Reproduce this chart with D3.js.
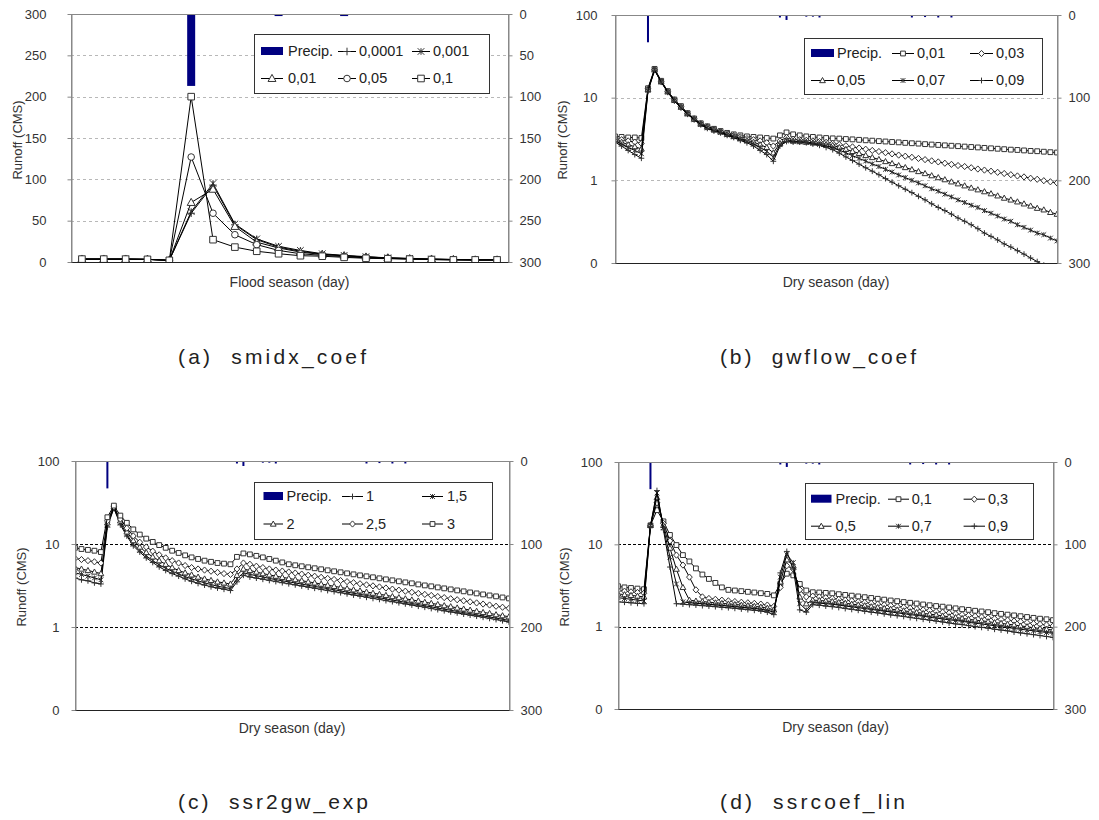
<!DOCTYPE html>
<html>
<head>
<meta charset="utf-8">
<script src="https://cdn.jsdelivr.net/npm/d3@7"></script>
<style>
  body { margin: 0; background: #fff; }
  text { font-family: "Liberation Sans", Arial, sans-serif; }
</style>
</head>
<body>
<div id="app"></div>
<script>
// ---------- data ----------
const floodDays = d3.range(1, 21);
const dryDays = d3.range(1, 69);

const linearTicks = [0, 50, 100, 150, 200, 250, 300];
const logTicks = [0.1, 1, 10, 100];
const precipTicks = [0, 100, 200, 300];

// (a) smidx_coef, flood season
const precipFlood = [0,0,0,0,0,87,0,0,0,2.5,0,0,2.5,0,0,0,0,0,0,0];
const smidx0001 = [3.5,3.5,3.5,3.2,2,59,93,45,27,18,13,9.5,7.5,6,5,4,3.5,3,2.5,2.5];
const smidx001  = [3.5,3.5,3.5,3.2,2,61,95,46,28,19,14,10,8,6.5,5,4.5,3.5,3,2.5,2.5];
const smidx01   = [3.5,3.5,3.5,3.2,2,72,88,43,24,17,12,9,7.6,6,5,4,3.5,3,2.5,2.5];
const smidx05   = [3.5,3.5,3.5,3.2,2,127,59,33,21,14,10,8,6.5,5,4.5,3.5,3,2.5,2.5,2.5];
const smidx1    = [3.5,3.5,3.5,3.2,2,200,27,18,13,10,7.6,7,5.6,4.5,4,3.5,3,2.5,2.5,2.5];

// dry season precipitation (shared by b, c, d)
const precipDry = [
  0,0,0,0,0,33,0,0,0,0,
  0,0,0,0,0,0,0,0,0,0,
  0,0,0,0,0,3,6,0,0,2,
  2,3,0,0,0,0,0,0,0,0,
  0,0,0,0,0,3,0,2.5,0,3,
  0,3,0,0,0,0,0,0,0,0,
  0,0,0,0,0,0,0,0];

// (b) gwflow_coef
const gw001 = [
  3.4,3.35,3.3,3.3,3.25,13,22.3,16,12,9.5,
  7.9,6.5,5.6,4.9,4.5,4.2,3.95,3.75,3.6,3.5,
  3.4,3.35,3.3,3.25,3.2,3.5,3.8,3.6,3.5,3.4,
  3.35,3.3,3.25,3.22,3.2,3.16,3.13,3.09,3.05,3.02,
  2.98,2.95,2.91,2.88,2.84,2.81,2.78,2.74,2.71,2.68,
  2.65,2.62,2.59,2.56,2.53,2.5,2.47,2.44,2.41,2.38,
  2.35,2.33,2.3,2.27,2.25,2.22,2.19,2.17];
const gw003 = [
  3.2,3.1,3.0,2.9,2.8,12.8,22,15.8,11.9,9.4,
  7.8,6.45,5.55,4.85,4.45,4.15,3.9,3.7,3.5,3.35,
  3.2,3.1,3.0,2.85,2.6,3.0,3.3,3.15,3.1,3.05,
  3.0,2.95,2.88,2.8,2.71,2.62,2.54,2.46,2.38,2.3,
  2.23,2.16,2.09,2.02,1.96,1.9,1.84,1.78,1.72,1.67,
  1.61,1.56,1.51,1.47,1.42,1.37,1.33,1.29,1.25,1.21,
  1.17,1.13,1.1,1.06,1.03,0.99,0.96,0.93];
const gw005 = [
  3.1,2.9,2.7,2.55,2.4,12.5,21.8,15.6,11.8,9.3,
  7.7,6.4,5.5,4.8,4.4,4.1,3.85,3.6,3.4,3.2,
  3.05,2.9,2.7,2.5,2.15,2.8,3.1,3.0,2.95,2.9,
  2.85,2.8,2.72,2.65,2.5,2.37,2.24,2.12,2.0,1.89,
  1.79,1.69,1.6,1.51,1.43,1.35,1.28,1.21,1.14,1.08,
  1.02,0.96,0.91,0.86,0.81,0.77,0.73,0.69,0.65,0.61,
  0.58,0.55,0.52,0.49,0.46,0.44,0.41,0.39];
const gw007 = [
  3.0,2.75,2.5,2.3,2.1,12.2,21.6,15.5,11.7,9.2,
  7.6,6.35,5.45,4.75,4.3,4.0,3.8,3.55,3.35,3.15,
  2.95,2.75,2.5,2.25,1.9,2.7,3.0,2.95,2.92,2.88,
  2.8,2.72,2.62,2.5,2.32,2.15,1.99,1.84,1.71,1.58,
  1.47,1.36,1.26,1.16,1.08,1.0,0.93,0.86,0.79,0.74,
  0.68,0.63,0.58,0.54,0.5,0.47,0.43,0.4,0.37,0.34,
  0.32,0.29,0.27,0.25,0.23,0.22,0.2,0.185];
const gw009 = [
  2.9,2.6,2.3,2.05,1.85,12,21.4,15.4,11.6,9.1,
  7.5,6.3,5.4,4.7,4.25,3.95,3.75,3.5,3.3,3.05,
  2.85,2.6,2.3,2.05,1.7,2.6,2.95,2.9,2.9,2.85,
  2.75,2.65,2.5,2.35,2.13,1.92,1.74,1.57,1.42,1.29,
  1.17,1.05,0.95,0.86,0.78,0.71,0.64,0.58,0.52,0.47,
  0.43,0.39,0.35,0.32,0.29,0.26,0.23,0.21,0.19,0.17,
  0.156,0.141,0.128,0.115,0.104,0.094,0.085,0.077];

// (c) ssr2gw_exp
const exp1 = [
  3.9,3.7,3.6,3.4,3.3,16,27,17,12.5,9.5,
  8.0,6.8,6.0,5.3,4.8,4.4,4.1,3.8,3.55,3.35,
  3.2,3.05,2.95,2.85,2.75,3.5,4.2,4.0,3.88,3.76,
  3.64,3.53,3.42,3.32,3.22,3.12,3.02,2.93,2.84,2.75,
  2.67,2.59,2.51,2.43,2.36,2.28,2.21,2.15,2.08,2.02,
  1.96,1.9,1.84,1.78,1.73,1.67,1.62,1.57,1.52,1.48,
  1.43,1.39,1.35,1.31,1.27,1.23,1.19,1.15];
const exp15 = [
  4.5,4.3,4.1,3.9,3.7,17,27,18,13,10,
  8.4,7.2,6.3,5.6,5.1,4.7,4.35,4.05,3.8,3.6,
  3.4,3.25,3.1,3.0,2.9,3.8,4.5,4.3,4.15,4.0,
  3.85,3.72,3.6,3.5,3.39,3.29,3.18,3.08,2.99,2.9,
  2.81,2.72,2.63,2.55,2.47,2.4,2.32,2.25,2.18,2.11,
  2.05,1.98,1.92,1.86,1.8,1.75,1.69,1.64,1.59,1.54,
  1.49,1.45,1.4,1.36,1.32,1.28,1.24,1.2];
const exp2 = [
  5.2,5.0,4.8,4.6,4.4,18,28,19,14,11,
  9.2,7.9,7.0,6.3,5.7,5.2,4.8,4.5,4.25,4.0,
  3.8,3.65,3.5,3.4,3.3,4.2,5.0,4.8,4.6,4.4,
  4.25,4.1,3.97,3.85,3.73,3.62,3.5,3.4,3.29,3.19,
  3.09,3.0,2.9,2.81,2.73,2.64,2.56,2.48,2.41,2.33,
  2.26,2.19,2.12,2.06,1.99,1.93,1.87,1.81,1.76,1.7,
  1.65,1.6,1.55,1.5,1.46,1.41,1.37,1.33];
const exp25 = [
  6.7,6.5,6.3,6.1,5.9,19,28,20,15.5,12.5,
  10.5,9.2,8.2,7.4,6.8,6.3,5.9,5.5,5.2,5.0,
  4.85,4.7,4.55,4.4,4.3,5.0,5.9,5.7,5.4,5.2,
  5.0,4.85,4.72,4.6,4.47,4.34,4.21,4.09,3.97,3.85,
  3.74,3.63,3.52,3.42,3.32,3.22,3.13,3.04,2.95,2.86,
  2.78,2.7,2.62,2.54,2.47,2.4,2.33,2.26,2.19,2.13,
  2.07,2.01,1.95,1.89,1.84,1.78,1.73,1.68];
const exp3 = [
  9.0,8.7,8.5,8.3,8.0,21,29,22,18,15,
  13,11.6,10.6,9.7,9.0,8.3,7.8,7.3,6.9,6.6,
  6.3,6.1,5.9,5.8,5.7,7.0,7.7,7.5,7.2,6.9,
  6.6,6.3,6.0,5.7,5.54,5.39,5.24,5.1,4.96,4.82,
  4.69,4.56,4.43,4.31,4.19,4.08,3.97,3.86,3.75,3.65,
  3.55,3.45,3.36,3.26,3.17,3.09,3.0,2.92,2.84,2.76,
  2.69,2.61,2.54,2.47,2.4,2.34,2.27,2.21];

// (d) ssrcoef_lin
const lin01 = [
  3.1,3.0,2.95,2.9,2.85,17,26,19,13,9.8,
  7.4,6.2,5.1,4.3,3.8,3.4,3.0,2.8,2.75,2.7,
  2.65,2.6,2.55,2.5,2.4,3.3,4.4,4.2,3.3,2.75,
  2.62,2.6,2.57,2.54,2.48,2.43,2.38,2.33,2.28,2.23,
  2.18,2.13,2.08,2.04,1.99,1.95,1.91,1.86,1.82,1.78,
  1.75,1.71,1.67,1.63,1.6,1.56,1.53,1.5,1.46,1.43,
  1.4,1.37,1.34,1.31,1.28,1.25,1.23,1.2];
const lin03 = [
  2.75,2.7,2.65,2.6,2.55,17,32,18,11,7.4,
  5.6,4.0,2.8,2.3,2.2,2.15,2.1,2.06,2.02,1.98,
  1.95,1.92,1.88,1.83,1.76,3.0,5.5,5.0,2.8,2.3,
  2.35,2.3,2.25,2.2,2.15,2.1,2.06,2.01,1.97,1.92,
  1.88,1.84,1.8,1.76,1.72,1.68,1.64,1.6,1.57,1.53,
  1.5,1.47,1.43,1.4,1.37,1.34,1.31,1.28,1.25,1.22,
  1.2,1.17,1.15,1.12,1.09,1.07,1.05,1.02];
const lin05 = [
  2.5,2.45,2.4,2.35,2.3,17,37,17,9,5,
  3.0,2.1,2.05,2.02,1.98,1.95,1.92,1.89,1.86,1.83,
  1.8,1.77,1.73,1.68,1.6,3.5,6.5,5.5,2.3,1.9,
  2.1,2.08,2.05,2.02,1.97,1.93,1.88,1.84,1.8,1.75,
  1.71,1.67,1.63,1.6,1.56,1.52,1.49,1.45,1.42,1.39,
  1.35,1.32,1.29,1.26,1.23,1.2,1.18,1.15,1.12,1.1,
  1.07,1.05,1.02,1.0,0.97,0.95,0.93,0.91];
const lin07 = [
  2.25,2.2,2.15,2.1,2.05,17,42,16,7,3.3,
  2.0,1.95,1.92,1.9,1.87,1.84,1.81,1.78,1.75,1.72,
  1.69,1.66,1.63,1.58,1.5,4.0,7.5,6.0,1.9,1.6,
  1.95,1.93,1.9,1.87,1.83,1.78,1.74,1.7,1.66,1.62,
  1.58,1.54,1.51,1.47,1.44,1.4,1.37,1.34,1.3,1.27,
  1.24,1.21,1.19,1.16,1.13,1.1,1.08,1.05,1.03,1.0,
  0.98,0.95,0.93,0.91,0.89,0.87,0.85,0.83];
const lin09 = [
  2.0,1.98,1.95,1.92,1.9,16.5,45,15,5.3,1.9,
  1.88,1.85,1.83,1.8,1.78,1.75,1.72,1.7,1.67,1.64,
  1.61,1.58,1.55,1.5,1.4,4.5,8.2,5.0,1.6,1.5,
  1.85,1.82,1.78,1.75,1.71,1.66,1.62,1.58,1.54,1.5,
  1.47,1.43,1.39,1.36,1.33,1.29,1.26,1.23,1.2,1.17,
  1.14,1.11,1.08,1.06,1.03,1.0,0.98,0.96,0.93,0.91,
  0.89,0.86,0.84,0.82,0.8,0.78,0.76,0.74];

// ---------- panels ----------
const panels = [
  {
    id: "a", cats: floodDays, band: true, log: false,
    left: 71, right: 508, top: 14, bottom: 262, labelGap: 25,
    yTicks: linearTicks, y2Ticks: linearTicks, grid: [50, 100, 150, 200, 250],
    gridColor: "#b8b8b8", gridDash: "3,3",
    precip: precipFlood, barWidth: 8, ms: 3.3,
    series: [
      { label: "0,0001", values: smidx0001, marker: "plus" },
      { label: "0,001", values: smidx001, marker: "star" },
      { label: "0,01", values: smidx01, marker: "triangle" },
      { label: "0,05", values: smidx05, marker: "circle" },
      { label: "0,1", values: smidx1, marker: "square" }
    ],
    legend: { x: 254, y: 34, w: 235, h: 59, rows: [17, 44], cols: [[7, 29, 34], [84, 102, 105], [158, 176, 179]] },
    yTitle: [17, 140], xTitle: "Flood season (day)", xTitleY: 287,
    caption: "(a)  smidx_coef", capX: 178, capY: 364, capLen: 188
  },
  {
    id: "b", cats: dryDays, band: false, log: true,
    left: 615, right: 1057, top: 15, bottom: 263, labelGap: 18,
    yTicks: logTicks, y2Ticks: precipTicks, grid: [1, 10],
    gridColor: "#b8b8b8", gridDash: "3,3",
    precip: precipDry, barWidth: 2, ms: 2.4,
    series: [
      { label: "0,01", values: gw001, marker: "square" },
      { label: "0,03", values: gw003, marker: "diamond" },
      { label: "0,05", values: gw005, marker: "triangle" },
      { label: "0,07", values: gw007, marker: "star" },
      { label: "0,09", values: gw009, marker: "plus" }
    ],
    legend: { x: 804, y: 38, w: 238, h: 56, rows: [15, 42], cols: [[7, 30, 33], [88, 110, 113], [166, 189, 192]] },
    yTitle: [562, 140], xTitle: "Dry season (day)", xTitleY: 287,
    caption: "(b)  gwflow_coef", capX: 720, capY: 364, capLen: 196
  },
  {
    id: "c", cats: dryDays, band: false, log: true,
    left: 75, right: 509, top: 461, bottom: 710, labelGap: 16,
    yTicks: logTicks, y2Ticks: precipTicks, grid: [1, 10],
    gridColor: "#000", gridDash: "3,2",
    precip: precipDry, barWidth: 2, ms: 2.4,
    series: [
      { label: "1", values: exp1, marker: "plus" },
      { label: "1,5", values: exp15, marker: "star" },
      { label: "2", values: exp2, marker: "triangle" },
      { label: "2,5", values: exp25, marker: "diamond" },
      { label: "3", values: exp3, marker: "square" }
    ],
    legend: { x: 254, y: 482, w: 238, h: 57, rows: [14, 41.5], cols: [[9.5, 29, 32.6], [88, 109, 112], [168, 189, 193]] },
    yTitle: [21, 587], xTitle: "Dry season (day)", xTitleY: 733,
    caption: "(c)  ssr2gw_exp", capX: 178, capY: 809, capLen: 190
  },
  {
    id: "d", cats: dryDays, band: false, log: true,
    left: 618, right: 1053, top: 462, bottom: 709, labelGap: 16,
    yTicks: logTicks, y2Ticks: precipTicks, grid: [1, 10],
    gridColor: "#000", gridDash: "3,2",
    precip: precipDry, barWidth: 2, ms: 2.4,
    series: [
      { label: "0,1", values: lin01, marker: "square" },
      { label: "0,3", values: lin03, marker: "diamond" },
      { label: "0,5", values: lin05, marker: "triangle" },
      { label: "0,7", values: lin07, marker: "star" },
      { label: "0,9", values: lin09, marker: "plus" }
    ],
    legend: { x: 805, y: 483, w: 228, h: 56, rows: [15.7, 42.7], cols: [[6, 26.5, 30.6], [83, 104, 106.7], [158.6, 180, 183]] },
    yTitle: [564, 587], xTitle: "Dry season (day)", xTitleY: 732,
    caption: "(d)  ssrcoef_lin", capX: 720, capY: 809, capLen: 185
  }
];

// ---------- drawing ----------
const svg = d3.select("#app")
  .append("svg")
  .attr("width", 1099)
  .attr("height", 820);

const markerPath = (type, s) => {
  switch (type) {
    case "plus": return `M${-s - 0.5},0H${s + 0.5}M0,${-s - 0.5}V${s + 0.5}`;
    case "star": return `M${-s},${-s}L${s},${s}M${-s},${s}L${s},${-s}M0,${-s}V${s}`;
    case "square": return `M${-s},${-s}H${s}V${s}H${-s}Z`;
    case "diamond": return `M0,${-s * 1.3}L${s * 1.2},0L0,${s * 1.3}L${-s * 1.2},0Z`;
    case "triangle": return `M0,${-s * 1.25}L${s * 1.2},${s * 0.9}L${-s * 1.2},${s * 0.9}Z`;
    case "circle": return d3.symbol(d3.symbolCircle, Math.PI * s * s)();
  }
};
const isOpen = m => m === "plus" || m === "star";

const fmtTick = v => (v < 1 ? "0" : d3.format("d")(v));

function drawPanel(p) {
  const g = svg.append("g").attr("id", `panel-${p.id}`);

  const x = p.band
    ? d3.scaleBand().domain(p.cats).range([p.left, p.right])
    : d3.scalePoint().domain(p.cats).range([p.left, p.right]);
  const xc = c => (p.band ? x(c) + x.bandwidth() / 2 : x(c));

  const y = p.log
    ? d3.scaleLog().domain([0.1, 100]).range([p.bottom, p.top])
    : d3.scaleLinear().domain([0, 300]).range([p.bottom, p.top]);
  const y2 = d3.scaleLinear().domain([0, 300]).range([p.top, p.bottom]);

  // gridlines
  g.append("g")
    .selectAll("line")
    .data(p.grid)
    .join("line")
    .attr("x1", p.left)
    .attr("x2", p.right)
    .attr("y1", d => Math.round(y(d)) + 0.5)
    .attr("y2", d => Math.round(y(d)) + 0.5)
    .attr("stroke", p.gridColor)
    .attr("stroke-dasharray", p.gridDash);

  // clip
  svg.append("clipPath")
    .attr("id", `clip-${p.id}`)
    .append("rect")
    .attr("x", p.left)
    .attr("y", p.top)
    .attr("width", p.right - p.left)
    .attr("height", p.bottom - p.top);

  const plot = g.append("g").attr("clip-path", `url(#clip-${p.id})`);

  // runoff series
  p.series.forEach(s => {
    const pts = p.cats.map((c, i) => [xc(c), y(s.values[i])]);
    plot.append("path")
      .attr("d", d3.line()(pts))
      .attr("fill", "none")
      .attr("stroke", "#000")
      .attr("stroke-width", 1);
    plot.append("g")
      .selectAll("path")
      .data(pts)
      .join("path")
      .attr("transform", d => `translate(${d[0]},${d[1]})`)
      .attr("d", markerPath(s.marker, p.ms))
      .attr("fill", isOpen(s.marker) ? "none" : "#fff")
      .attr("stroke", "#333")
      .attr("stroke-width", 1);
  });

  // precipitation bars (secondary, inverted axis)
  plot.append("g")
    .selectAll("rect")
    .data(p.cats.map((c, i) => [c, p.precip[i]]).filter(d => d[1] > 0))
    .join("rect")
    .attr("x", d => xc(d[0]) - p.barWidth / 2)
    .attr("y", p.top)
    .attr("width", p.barWidth)
    .attr("height", d => y2(d[1]) - p.top)
    .attr("fill", "#000080");

  // frame
  g.append("rect")
    .attr("x", p.left + 0.5)
    .attr("y", p.top + 0.5)
    .attr("width", p.right - p.left)
    .attr("height", p.bottom - p.top)
    .attr("fill", "none")
    .attr("stroke", "#888");
  g.append("line")
    .attr("x1", p.left)
    .attr("x2", p.right + 1)
    .attr("y1", p.bottom + 0.5)
    .attr("y2", p.bottom + 0.5)
    .attr("stroke", "#222");

  // axes
  const yAxis = g.append("g")
    .attr("transform", `translate(${p.left + 0.5},0)`)
    .call(d3.axisLeft(y).tickValues(p.yTicks).tickFormat(fmtTick)
      .tickSize(4).tickSizeOuter(0).tickPadding(p.labelGap - 4));
  const y2Axis = g.append("g")
    .attr("transform", `translate(${p.right + 0.5},0)`)
    .call(d3.axisRight(y2).tickValues(p.y2Ticks).tickFormat(d3.format("d"))
      .tickSize(4).tickSizeOuter(0).tickPadding(7));
  [yAxis, y2Axis].forEach(ax => {
    ax.select(".domain").attr("stroke", "#888");
    ax.selectAll(".tick line").attr("stroke", "#888");
    ax.selectAll("text")
      .attr("fill", "#333")
      .style("font-size", "13px")
      .style("font-family", '"Liberation Sans", Arial, sans-serif');
  });

  // titles
  g.append("text")
    .attr("transform", `translate(${p.yTitle[0]},${p.yTitle[1]}) rotate(-90)`)
    .attr("text-anchor", "middle")
    .attr("dy", "0.35em")
    .attr("fill", "#333")
    .style("font-size", "13px")
    .text("Runoff (CMS)");
  g.append("text")
    .attr("x", (p.left + p.right) / 2)
    .attr("y", p.xTitleY)
    .attr("text-anchor", "middle")
    .attr("fill", "#333")
    .style("font-size", "14px")
    .text(p.xTitle);

  // legend
  const L = p.legend;
  const lg = g.append("g").attr("transform", `translate(${L.x},${L.y})`);
  lg.append("rect")
    .attr("x", 0.5)
    .attr("y", 0.5)
    .attr("width", L.w)
    .attr("height", L.h)
    .attr("fill", "#fff")
    .attr("stroke", "#333");
  const items = [{ label: "Precip.", bar: true }].concat(p.series);
  items.forEach((it, i) => {
    const row = L.rows[Math.floor(i / 3)];
    const [x0, x1, tx] = L.cols[i % 3];
    if (it.bar) {
      lg.append("rect")
        .attr("x", x0)
        .attr("y", row - 4)
        .attr("width", x1 - x0)
        .attr("height", 8)
        .attr("fill", "#000080");
    } else {
      lg.append("line")
        .attr("x1", x0)
        .attr("x2", x1)
        .attr("y1", row + 0.5)
        .attr("y2", row + 0.5)
        .attr("stroke", "#000");
      lg.append("path")
        .attr("transform", `translate(${(x0 + x1) / 2},${row + 0.5})`)
        .attr("d", markerPath(it.marker, p.ms))
        .attr("fill", isOpen(it.marker) ? "none" : "#fff")
        .attr("stroke", "#333");
    }
    lg.append("text")
      .attr("x", tx)
      .attr("y", row)
      .attr("dy", "0.35em")
      .attr("fill", "#222")
      .style("font-size", "14.5px")
      .text(it.label);
  });

  // caption
  svg.append("text")
    .attr("x", p.capX)
    .attr("y", p.capY)
    .attr("textLength", p.capLen)
    .attr("lengthAdjust", "spacing")
    .attr("fill", "#222")
    .style("font-size", "21px")
    .style("white-space", "pre")
    .text(p.caption);
}

panels.forEach(drawPanel);
</script>
</body>
</html>
